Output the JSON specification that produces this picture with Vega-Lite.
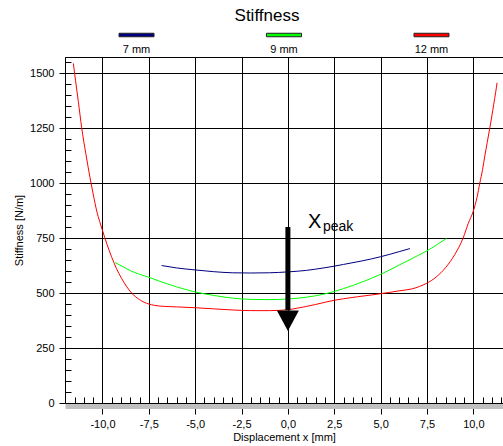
{
  "$schema": "https://vega.github.io/schema/vega-lite/v6.json",
  "padding": {"left": 13, "top": 7, "right": 0, "bottom": 2},
  "bounds": "flush",
  "spacing": 12,
  "config": {
    "font": "Liberation Sans",
    "view": {"stroke": null},
    "axis": {"labelFont": "Liberation Sans", "titleFont": "Liberation Sans", "labelColor": "#000", "titleColor": "#000", "labelFontSize": 11, "titleFontSize": 11, "titleFontWeight": "normal"}
  },
  "datasets": {
    "legend": [{"series": "7 mm"}, {"series": "9 mm"}, {"series": "12 mm"}],
    "curves": [
      {"series": "12 mm", "x": -11.57, "y": 1544}, {"series": "12 mm", "x": -11.45, "y": 1465}, {"series": "12 mm", "x": -11.3, "y": 1370},
      {"series": "12 mm", "x": -11.12, "y": 1251}, {"series": "12 mm", "x": -10.9, "y": 1135}, {"series": "12 mm", "x": -10.67, "y": 1024},
      {"series": "12 mm", "x": -10.5, "y": 950}, {"series": "12 mm", "x": -10.31, "y": 873}, {"series": "12 mm", "x": -10.15, "y": 825},
      {"series": "12 mm", "x": -10.0, "y": 785}, {"series": "12 mm", "x": -9.75, "y": 720}, {"series": "12 mm", "x": -9.51, "y": 665},
      {"series": "12 mm", "x": -9.25, "y": 612}, {"series": "12 mm", "x": -8.97, "y": 567}, {"series": "12 mm", "x": -8.7, "y": 530},
      {"series": "12 mm", "x": -8.43, "y": 500}, {"series": "12 mm", "x": -8.2, "y": 482}, {"series": "12 mm", "x": -8.0, "y": 470},
      {"series": "12 mm", "x": -7.75, "y": 458}, {"series": "12 mm", "x": -7.5, "y": 450}, {"series": "12 mm", "x": -7.2, "y": 444},
      {"series": "12 mm", "x": -6.8, "y": 440}, {"series": "12 mm", "x": -6.0, "y": 437}, {"series": "12 mm", "x": -5.0, "y": 433},
      {"series": "12 mm", "x": -4.0, "y": 428}, {"series": "12 mm", "x": -3.0, "y": 423}, {"series": "12 mm", "x": -2.0, "y": 420},
      {"series": "12 mm", "x": -1.0, "y": 420}, {"series": "12 mm", "x": 0.0, "y": 424}, {"series": "12 mm", "x": 0.5, "y": 431},
      {"series": "12 mm", "x": 1.0, "y": 439}, {"series": "12 mm", "x": 1.5, "y": 448}, {"series": "12 mm", "x": 2.0, "y": 458},
      {"series": "12 mm", "x": 2.5, "y": 467}, {"series": "12 mm", "x": 3.0, "y": 474}, {"series": "12 mm", "x": 3.75, "y": 483},
      {"series": "12 mm", "x": 4.5, "y": 491}, {"series": "12 mm", "x": 5.0, "y": 497}, {"series": "12 mm", "x": 5.5, "y": 503},
      {"series": "12 mm", "x": 6.0, "y": 510}, {"series": "12 mm", "x": 6.7, "y": 519}, {"series": "12 mm", "x": 7.1, "y": 530},
      {"series": "12 mm", "x": 7.5, "y": 545}, {"series": "12 mm", "x": 8.0, "y": 573}, {"series": "12 mm", "x": 8.5, "y": 615},
      {"series": "12 mm", "x": 9.0, "y": 675}, {"series": "12 mm", "x": 9.45, "y": 750}, {"series": "12 mm", "x": 9.72, "y": 815},
      {"series": "12 mm", "x": 10.0, "y": 873}, {"series": "12 mm", "x": 10.2, "y": 935}, {"series": "12 mm", "x": 10.35, "y": 1000},
      {"series": "12 mm", "x": 10.5, "y": 1062}, {"series": "12 mm", "x": 10.62, "y": 1123}, {"series": "12 mm", "x": 10.75, "y": 1185},
      {"series": "12 mm", "x": 10.89, "y": 1251}, {"series": "12 mm", "x": 11.0, "y": 1305}, {"series": "12 mm", "x": 11.1, "y": 1358},
      {"series": "12 mm", "x": 11.2, "y": 1410}, {"series": "12 mm", "x": 11.28, "y": 1456},
      {"series": "9 mm", "x": -9.33, "y": 639}, {"series": "9 mm", "x": -9.0, "y": 624}, {"series": "9 mm", "x": -8.5, "y": 602},
      {"series": "9 mm", "x": -8.0, "y": 585}, {"series": "9 mm", "x": -7.5, "y": 572}, {"series": "9 mm", "x": -7.0, "y": 556},
      {"series": "9 mm", "x": -6.0, "y": 528}, {"series": "9 mm", "x": -5.0, "y": 505}, {"series": "9 mm", "x": -4.0, "y": 489},
      {"series": "9 mm", "x": -3.0, "y": 477}, {"series": "9 mm", "x": -2.0, "y": 471}, {"series": "9 mm", "x": -1.0, "y": 470},
      {"series": "9 mm", "x": 0.0, "y": 473}, {"series": "9 mm", "x": 1.0, "y": 481}, {"series": "9 mm", "x": 2.0, "y": 496},
      {"series": "9 mm", "x": 2.5, "y": 507}, {"series": "9 mm", "x": 3.0, "y": 520}, {"series": "9 mm", "x": 4.0, "y": 550},
      {"series": "9 mm", "x": 5.0, "y": 585}, {"series": "9 mm", "x": 6.0, "y": 627}, {"series": "9 mm", "x": 7.0, "y": 670},
      {"series": "9 mm", "x": 7.5, "y": 692}, {"series": "9 mm", "x": 8.0, "y": 718}, {"series": "9 mm", "x": 8.55, "y": 748},
      {"series": "7 mm", "x": -6.81, "y": 625}, {"series": "7 mm", "x": -6.0, "y": 614}, {"series": "7 mm", "x": -5.0, "y": 605},
      {"series": "7 mm", "x": -4.0, "y": 597}, {"series": "7 mm", "x": -3.0, "y": 592}, {"series": "7 mm", "x": -2.0, "y": 591},
      {"series": "7 mm", "x": -1.0, "y": 592}, {"series": "7 mm", "x": 0.0, "y": 596}, {"series": "7 mm", "x": 1.0, "y": 603},
      {"series": "7 mm", "x": 2.0, "y": 615}, {"series": "7 mm", "x": 2.5, "y": 622}, {"series": "7 mm", "x": 3.0, "y": 630},
      {"series": "7 mm", "x": 4.0, "y": 646}, {"series": "7 mm", "x": 5.0, "y": 665}, {"series": "7 mm", "x": 6.0, "y": 688},
      {"series": "7 mm", "x": 6.58, "y": 702}
    ],
    "annotation": [{"x": 0, "y": 800, "y2": 421, "tipY": 374, "labelX": 1.08, "labelY": 797, "label": "X", "sub": "peak"}]
  },
  "vconcat": [
    {
      "width": 438,
      "height": 20,
      "title": {"text": "Stiffness", "fontSize": 17, "fontWeight": "normal", "font": "Liberation Sans", "color": "#000", "baseline": "alphabetic", "offset": -13, "dx": -17, "anchor": "middle"},
      "data": {"name": "legend"},
      "layer": [
        {
          "mark": {"type": "point", "shape": "M-1,-0.1L1,-0.1L1,0.1L-1,0.1Z", "size": 1225, "filled": true, "stroke": "#222", "strokeWidth": 1, "opacity": 1},
          "encoding": {
            "x": {"field": "series", "type": "nominal", "scale": {"type": "point", "domain": ["7 mm", "9 mm", "12 mm"], "padding": 0.485}, "axis": null},
            "fill": {"field": "series", "type": "nominal", "scale": {"domain": ["7 mm", "9 mm", "12 mm"], "range": ["#000080", "#00ff00", "#ff0000"]}, "legend": null}
          }
        },
        {
          "mark": {"type": "text", "dy": 15, "fontSize": 11, "font": "Liberation Sans", "color": "#000"},
          "encoding": {
            "x": {"field": "series", "type": "nominal", "scale": {"type": "point", "domain": ["7 mm", "9 mm", "12 mm"], "padding": 0.485}, "axis": null},
            "text": {"field": "series"}
          }
        }
      ]
    },
    {
      "width": 438,
      "height": 346,
      "layer": [
        {
          "data": {"name": "curves"},
          "mark": {"type": "line", "strokeWidth": 1, "interpolate": "monotone"},
          "encoding": {
            "x": {"field": "x", "type": "quantitative", "scale": {"domain": [-12.02, 11.6], "nice": false, "zero": false},
              "axis": {
                "values": [-11.5,-11,-10.5,-10,-9.5,-9,-8.5,-8,-7.5,-7,-6.5,-6,-5.5,-5,-4.5,-4,-3.5,-3,-2.5,-2,-1.5,-1,-0.5,0,0.5,1,1.5,2,2.5,3,3.5,4,4.5,5,5.5,6,6.5,7,7.5,8,8.5,9,9.5,10,10.5,11,11.5],
                "tickCount": 100,
                "grid": true, "gridColor": "#000", "gridWidth": 1,
                "gridOpacity": {"condition": {"test": "abs(datum.value % 2.5) < 0.001", "value": 1}, "value": 0},
                "tickSize": {"condition": {"test": "abs(datum.value % 2.5) < 0.001", "value": 8}, "value": -9},
                "tickColor": "#000",
                "offset": 3,
                "domainColor": "#c0c0c0", "domainWidth": 5,
                "labelExpr": "abs(datum.value % 2.5) < 0.001 ? (datum.value < 0 ? '-' : '') + replace(format(abs(datum.value), '.1f'), '.', ',') : ''",
                "labelOverlap": false, "labelFlush": false, "labelBound": false, "labelPadding": 4,
                "titlePadding": 2
              },
              "title": "Displacement x [mm]"},
            "y": {"field": "y", "type": "quantitative", "scale": {"domain": [0, 1573], "nice": false, "zero": false},
              "axis": {
                "values": [0,50,100,150,200,250,300,350,400,450,500,550,600,650,700,750,800,850,900,950,1000,1050,1100,1150,1200,1250,1300,1350,1400,1450,1500,1550,1573],
                "tickCount": 100,
                "grid": true, "gridColor": "#000", "gridWidth": 1,
                "gridOpacity": {"condition": {"test": "datum.value % 250 == 0 || datum.value > 1560", "value": 1}, "value": 0},
                "tickSize": {"condition": {"test": "datum.value % 250 == 0", "value": 6}, "value": -6},
                "tickColor": "#000", "domainColor": "#000",
                "labelExpr": "datum.value % 250 == 0 ? format(datum.value, 'd') : ''",
                "labelOverlap": false, "labelFlush": false, "labelBound": false, "labelPadding": 5,
                "titlePadding": 5
              },
              "title": "Stiffness [N/m]"},
            "color": {"field": "series", "type": "nominal", "scale": {"domain": ["7 mm", "9 mm", "12 mm"], "range": ["#000080", "#00ff00", "#ff0000"]}, "legend": null},
            "detail": {"field": "series"}
          }
        },
        {
          "data": {"name": "annotation"},
          "mark": {"type": "rule", "strokeWidth": 5, "color": "#000"},
          "encoding": {
            "x": {"field": "x", "type": "quantitative"},
            "y": {"field": "y", "type": "quantitative"},
            "y2": {"field": "y2"}
          }
        },
        {
          "data": {"name": "annotation"},
          "mark": {"type": "point", "shape": "M-1,-0.94L1,-0.94L0,0.94Z", "size": 484, "filled": true, "color": "#000", "opacity": 1, "strokeWidth": 0},
          "encoding": {
            "x": {"field": "x", "type": "quantitative"},
            "y": {"field": "tipY", "type": "quantitative"}
          }
        },
        {
          "data": {"name": "annotation"},
          "mark": {"type": "text", "fontSize": 20, "font": "Liberation Sans", "align": "left", "baseline": "alphabetic", "color": "#000"},
          "encoding": {
            "x": {"field": "labelX", "type": "quantitative"},
            "y": {"field": "labelY", "type": "quantitative"},
            "text": {"field": "label"}
          }
        },
        {
          "data": {"name": "annotation"},
          "mark": {"type": "text", "fontSize": 14, "font": "Liberation Sans", "align": "left", "baseline": "alphabetic", "color": "#000", "dx": 15, "dy": 3},
          "encoding": {
            "x": {"field": "labelX", "type": "quantitative"},
            "y": {"field": "labelY", "type": "quantitative"},
            "text": {"field": "sub"}
          }
        }
      ]
    }
  ]
}
